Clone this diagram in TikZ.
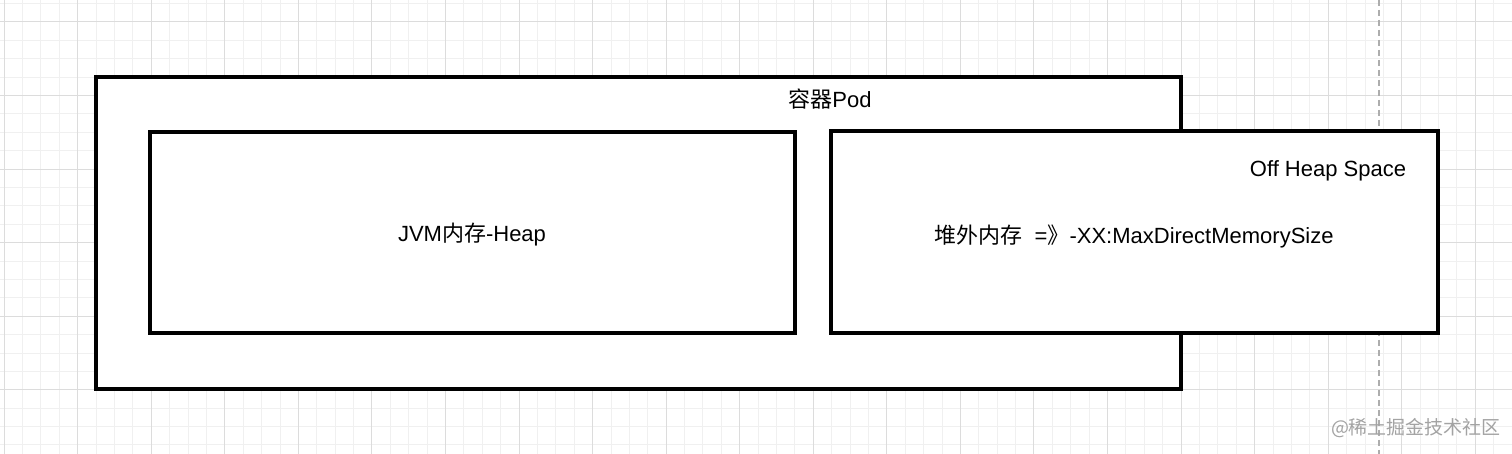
\documentclass[tikz,border=0pt]{standalone}
\usepackage{fontspec}
\setmainfont{Liberation Sans}
\newfontfamily\cjk{Noto Sans CJK SC}
\definecolor{minorgrid}{HTML}{F0F0F0}
\definecolor{majorgrid}{HTML}{DCDCDC}
\definecolor{guidegray}{HTML}{ADADAD}
\definecolor{markgray}{HTML}{A3A3A3}
\begin{document}
\begin{tikzpicture}[
    x=0.5pt, y=-0.5pt,
    every node/.style={inner sep=1pt, font=\fontsize{11}{13}\selectfont},
    box/.style={draw, line width=1.6pt, fill=white, inner sep=0pt}
]
\useasboundingbox (0,0) rectangle (1512,454);
\fill[white] (0,0) rectangle (1512,454);

% Grid
\foreach \k in {-1,...,82} {
  \draw[minorgrid, line width=0.5pt] ({4.15+18.39*\k},0) -- ({4.15+18.39*\k},454);
}
\foreach \k in {-2,...,23} {
  \draw[minorgrid, line width=0.5pt] (0,{22+18.39*\k}) -- (1512,{22+18.39*\k});
}
\foreach \k in {0,...,20} {
  \draw[majorgrid, line width=0.5pt] ({4.15+73.56*\k},0) -- ({4.15+73.56*\k},454);
}
\foreach \k in {0,...,5} {
  \draw[majorgrid, line width=0.5pt] (0,{22+73.56*\k}) -- (1512,{22+73.56*\k});
}

% Guide line
\coordinate (gtop) at (1379,0);
\coordinate (gbot) at (1379,454);
\draw[guidegray, line width=0.6pt, dash pattern=on 3pt off 2pt] (gtop) -- (gbot);

% Boxes
\node[box, minimum width=542.5pt, minimum height=156pt] (pod) at (638.5,233) {};
\node[box, minimum width=322.5pt, minimum height=100.5pt] (jvm) at (472.5,232.5) {};
\node[box, minimum width=303.5pt, minimum height=101pt] (offheap) at (1134.5,232) {};

% Labels
\node (podlabel) at (830,99) {{\cjk 容器}Pod};
\node (jvmlabel) at (472,235) {JVM{\cjk 内存}-Heap};
\node (offlabel) at (1328,171) {Off Heap Space};
\node (offtext) at (1134,236) {{\cjk 堆外内存}\ \ ={\cjk 》}-XX:MaxDirectMemorySize};

% Watermark
\node[text=markgray, font=\cjk\fontsize{9.5}{11}\selectfont] (mark) at (1416,428) {@稀土掘金技术社区};
\end{tikzpicture}
\end{document}
